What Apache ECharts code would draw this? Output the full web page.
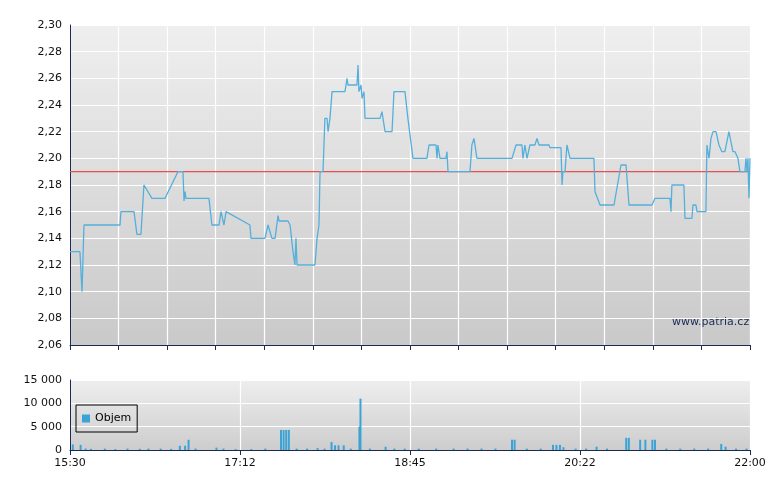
<!DOCTYPE html>
<html><head><meta charset="utf-8">
<script src="https://cdn.jsdelivr.net/npm/echarts@6/dist/echarts.min.js"></script>
<style>html,body{margin:0;padding:0;background:#fff}#c{width:780px;height:490px}</style>
</head><body><div id="c"></div>
<script>
// minutes after 15:30
const priceTimes=[0,5.7,6.9,8,28.7,29.2,36.7,38.4,40.7,42.4,47,54.5,61.9,64.8,65.4,66,66.5,79.7,81.4,85.5,86.6,88.3,89.5,103.2,103.8,111.8,113.6,115.8,117.6,119.3,119.9,125,126.2,127.3,127.9,129,129.6,130.2,140.5,141.7,142.8,143.4,145.1,146.2,147.4,148,149.1,150.3,157.7,158.9,159.4,164.6,165.2,165.7,166.9,167.5,168.6,169.2,177.8,178.9,180.7,184.7,185.8,192.1,193.8,196.7,204.7,205.9,209.9,210.5,211,212.2,215.6,216.2,216.8,229.4,230.5,231.7,233.4,253.5,255.8,259.2,259.8,260.9,262.1,263.2,263.8,266.7,267.8,269,274.7,275.3,281.6,282.2,282.7,283.9,285,286.8,300.5,301.1,302.2,304,312,316,318.9,320.6,333.8,335.5,344.1,344.7,345.2,352.1,352.7,356.7,357.3,359,359.6,364.7,365.3,366.5,367.6,368.8,370.5,372.2,373.9,375.6,377.9,380.2,381.4,383.1,384.2,387.1,387.7,388.3,388.8,389.4,390];
const priceValues=[2.13,2.13,2.10,2.15,2.15,2.16,2.16,2.143,2.143,2.18,2.17,2.17,2.19,2.19,2.168,2.175,2.17,2.17,2.15,2.15,2.16,2.15,2.16,2.15,2.14,2.14,2.15,2.14,2.14,2.157,2.153,2.153,2.15,2.15,2.13,2.12,2.14,2.12,2.12,2.14,2.15,2.19,2.19,2.23,2.23,2.22,2.23,2.25,2.25,2.26,2.255,2.255,2.27,2.25,2.255,2.245,2.25,2.23,2.23,2.235,2.22,2.22,2.25,2.25,2.23,2.20,2.20,2.21,2.21,2.20,2.21,2.20,2.20,2.205,2.19,2.19,2.21,2.215,2.20,2.20,2.21,2.21,2.20,2.21,2.20,2.20,2.21,2.21,2.215,2.21,2.21,2.208,2.208,2.18,2.19,2.19,2.21,2.20,2.20,2.175,2.175,2.165,2.165,2.195,2.195,2.165,2.165,2.17,2.17,2.16,2.18,2.18,2.155,2.155,2.165,2.165,2.16,2.16,2.21,2.20,2.215,2.22,2.22,2.21,2.205,2.205,2.22,2.205,2.205,2.20,2.19,2.19,2.20,2.19,2.20,2.17,2.20];
const refPrice=2.19;
const volTimes=[1.6,6.1,9,12,20,26,33,40,45,52,58,63,66,68,72,84,88,95,104,112,121,122.5,124,125.5,130,136,142,146,150,152,154,157,161,166,166.6,172,181,186,192,200,210,220,228,236,244,253.5,255,262,270,277,279,281,283,290,296,302,308,319,320.5,327,330,334,335.5,342,350,358,366,373.5,376,382,388];
const volValues=[1200,1100,300,250,300,200,300,250,300,300,250,900,900,2200,300,500,300,200,200,300,4300,4300,4300,4300,300,300,400,300,1700,1000,1000,1000,300,5000,11000,300,700,300,300,300,300,300,300,300,300,2200,2200,300,300,1100,1100,1100,600,300,300,700,300,2600,2600,2200,2200,2200,2200,300,300,300,300,1300,700,300,300];
const timeLabels=['15:30','17:12','18:45','20:22','22:00'];

const priceData=priceTimes.map((t,i)=>[t,priceValues[i]]);
const volData=volTimes.map((t,i)=>[t,volValues[i]]);
const bg={type:'linear',x:0,y:0,x2:0,y2:1,colorStops:[{offset:0,color:'#efefef'},{offset:1,color:'#c9c9c9'}]};
const axisCol='#1a2a55';
const ch=echarts.init(document.getElementById('c'));
ch.setOption({
 animation:false,
 grid:[{left:70,top:25,width:680,height:320,show:true,backgroundColor:bg,borderWidth:0},
       {left:70,top:380,width:680,height:70,show:true,backgroundColor:{type:'linear',x:0,y:0,x2:0,y2:1,colorStops:[{offset:0,color:'#eeeeee'},{offset:1,color:'#cdcdcd'}]},borderWidth:0}],
 legend:{data:['Objem'],left:76,top:405,orient:'vertical',padding:[8,6,8,6],borderColor:'#000',borderWidth:1,itemWidth:8,itemHeight:8,
   textStyle:{fontFamily:'DejaVu Sans',fontSize:11,color:'#000'},icon:'rect'},
 xAxis:[{gridIndex:0,type:'value',min:0,max:390,interval:390/14,axisLabel:{show:false},
   axisLine:{lineStyle:{color:axisCol}},axisTick:{lineStyle:{color:axisCol},length:5},splitLine:{lineStyle:{color:'#fff',width:1.2}}},
  {gridIndex:1,type:'value',min:0,max:390,interval:97.5,
   axisLabel:{formatter:(v)=>timeLabels[Math.round(v/97.5)],fontFamily:'DejaVu Sans',fontSize:11,color:'#111'},
   axisLine:{lineStyle:{color:axisCol}},axisTick:{lineStyle:{color:axisCol},length:5},splitLine:{lineStyle:{color:'#fff',width:1.2}}}],
 yAxis:[{gridIndex:0,type:'value',min:2.06,max:2.30,interval:0.02,
   axisLabel:{formatter:(v)=>v.toFixed(2).replace('.',','),fontFamily:'DejaVu Sans',fontSize:11,color:'#111'},
   axisLine:{show:true,lineStyle:{color:axisCol}},axisTick:{show:false},splitLine:{lineStyle:{color:'#fff',width:1.2}}},
  {gridIndex:1,type:'value',min:0,max:15000,interval:5000,
   axisLabel:{formatter:(v)=>v>=1000?String(v).replace(/(\d)(\d{3})$/,'$1 $2'):String(v),fontFamily:'DejaVu Sans',fontSize:11,color:'#111'},
   axisLine:{show:true,lineStyle:{color:axisCol}},axisTick:{show:false},splitLine:{lineStyle:{color:'#fff',width:1.2}}}],
 graphic:[{type:'text',left:672,top:317,style:{text:'www.patria.cz',font:'11px DejaVu Sans',fill:'#1a2a55'}}],
 series:[
  {type:'line',xAxisIndex:0,yAxisIndex:0,data:[[0,refPrice],[390,refPrice]],symbol:'none',silent:true,lineStyle:{color:'#e85050',width:1.3},z:1},
  {type:'line',xAxisIndex:0,yAxisIndex:0,data:priceData,symbol:'none',lineStyle:{color:'#55afdb',width:1.3},z:2},
  {name:'Objem',type:'bar',xAxisIndex:1,yAxisIndex:1,data:volData,barWidth:2,itemStyle:{color:'#3ba3d6'}}
 ]
});
</script></body></html>
